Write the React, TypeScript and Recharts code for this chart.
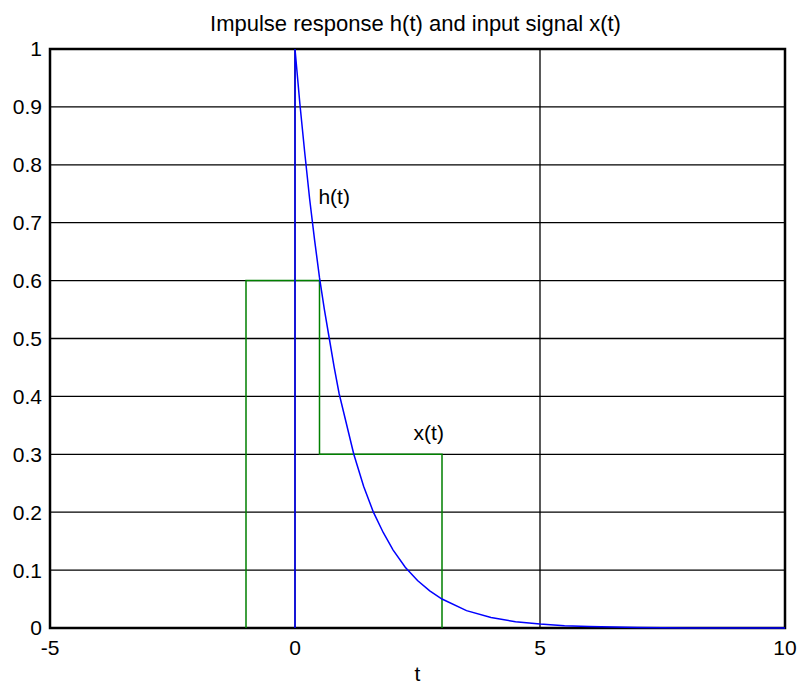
import {
  CartesianGrid,
  ComposedChart,
  Customized,
  Line,
  ReferenceArea,
  ReferenceDot,
  XAxis,
  YAxis,
} from 'recharts';

// h(t) (starts at t = 0 with a jump to 1)
const hT = [0, 0, 0.1, 0.2, 0.3, 0.4, 0.5, 0.6, 0.7, 0.8, 0.9, 1.0, 1.2, 1.4, 1.6, 1.8, 2.0, 2.25, 2.5, 2.75, 3.0, 3.5, 4.0, 4.5, 5.0, 5.5, 6, 7, 8, 9, 10];
const hV = [0, 1, 0.905, 0.82, 0.74, 0.67, 0.605, 0.55, 0.5, 0.45, 0.405, 0.37, 0.3, 0.245, 0.2, 0.165, 0.135, 0.105, 0.082, 0.064, 0.05, 0.03, 0.018, 0.011, 0.007, 0.004, 0.0025, 0.001, 0, 0, 0];

// x(t), the green two-level pulse
const xT = [-1, -1, 0.5, 0.5, 3, 3];
const xV = [0, 0.6, 0.6, 0.3, 0.3, 0];

const xTicks = [-5, 0, 5, 10];
const yTicks = [0, 0.1, 0.2, 0.3, 0.4, 0.5, 0.6, 0.7, 0.8, 0.9, 1];

const FONT = '"Liberation Sans", Arial, sans-serif';
const FS = 21;

const hData = hT.map((t, i) => ({ t, h: hV[i] }));
const xData = xT.map((t, i) => ({ t, x: xV[i] }));

const fmtY = (v: number) => (v === 0 || v === 1 ? String(v) : v.toFixed(1));

function Texts(props: any) {
  const off = props.offset ?? { left: 50, top: 49, width: 735, height: 579 };
  const cx = off.left + off.width / 2;
  return (
    <g fontFamily={FONT} fill="#000">
      <text x={cx - 2} y={31} textAnchor="middle" fontSize={22}>
        Impulse response h(t) and input signal x(t)
      </text>
      <text x={cx} y={681} textAnchor="middle" fontSize={FS}>
        t
      </text>
    </g>
  );
}

export default function App() {
  return (
    <div style={{ position: 'absolute', left: 0, top: 0, background: '#fff' }}>
      <ComposedChart width={799} height={684} margin={{ top: 49, right: 14, bottom: 0, left: 0 }}>
        <CartesianGrid stroke="#000" strokeWidth={1.3} horizontalValues={yTicks} verticalValues={xTicks} />
        <XAxis
          dataKey="t"
          type="number"
          domain={[-5, 10]}
          ticks={xTicks}
          allowDuplicatedCategory={false}
          height={56}
          axisLine={false}
          tickLine={false}
          tickSize={6}
          tickMargin={6}
          tick={{ fill: '#000', fontSize: FS, fontFamily: FONT }}
        />
        <YAxis
          type="number"
          domain={[0, 1]}
          ticks={yTicks}
          width={50}
          axisLine={false}
          tickLine={false}
          tickFormatter={fmtY}
          tick={{ fill: '#000', fontSize: FS, fontFamily: FONT }}
        />
        <ReferenceArea x1={-5} x2={10} y1={0} y2={1} fill="none" stroke="#000" strokeWidth={2.5} />
        <Line
          data={xData}
          dataKey="x"
          type="linear"
          stroke="#008000"
          strokeWidth={1.5}
          dot={false}
          isAnimationActive={false}
        />
        <Line
          data={hData}
          dataKey="h"
          type="linear"
          stroke="#0000ff"
          strokeWidth={1.5}
          dot={false}
          isAnimationActive={false}
        />
        <ReferenceDot
          x={0.8}
          y={0.745}
          r={0}
          label={{ value: 'h(t)', position: 'center', fill: '#000', fontSize: FS, fontFamily: FONT }}
        />
        <ReferenceDot
          x={2.73}
          y={0.337}
          r={0}
          label={{ value: 'x(t)', position: 'center', fill: '#000', fontSize: FS, fontFamily: FONT }}
        />
        <Customized component={Texts} />
      </ComposedChart>
    </div>
  );
}
